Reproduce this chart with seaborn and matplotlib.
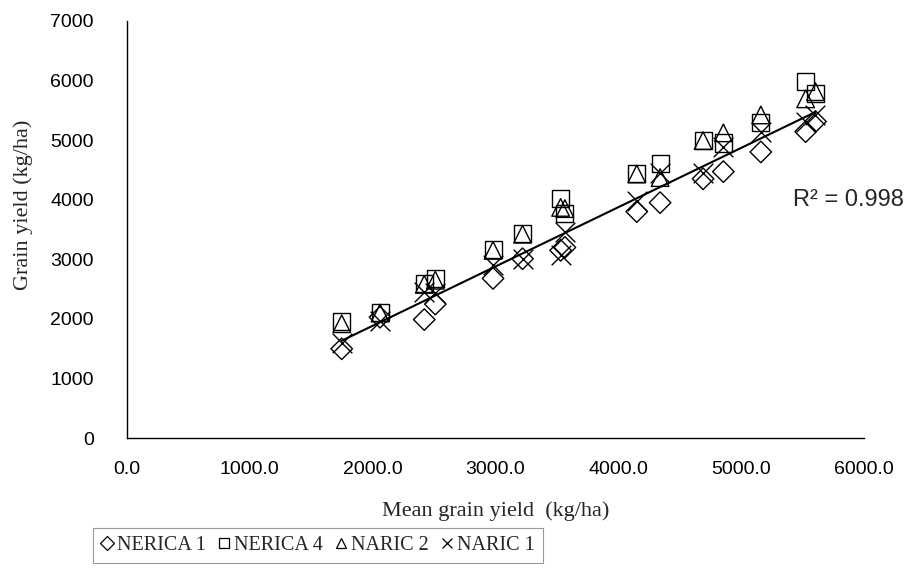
import numpy as np
import pandas as pd
import matplotlib
matplotlib.use('Agg')
import matplotlib.pyplot as plt
from matplotlib.lines import Line2D
import seaborn as sns

# Values
mean_yield = [1748, 2060, 2420, 2510, 2980, 3220, 3530, 3565, 4150, 4340, 4690, 4855, 5160, 5525, 5605]
nerica1 = [1500, 2030, 1990, 2250, 2680, 3010, 3150, 3200, 3800, 3950, 4350, 4470, 4800, 5140, 5310]
nerica4 = [1950, 2110, 2600, 2680, 3160, 3430, 4020, 3760, 4440, 4610, 5000, 4950, 5300, 5980, 5780]
naric2 = [1920, 2100, 2580, 2650, 3150, 3420, 3870, 3850, 4430, 4370, 4990, 5120, 5420, 5690, 5810]
naric1 = [1600, 1960, 2450, 2440, 2900, 3000, 3080, 3450, 3970, 4440, 4440, 4890, 5140, 5310, 5420]

varieties = ['NERICA 1', 'NERICA 4', 'NARIC 2', 'NARIC 1']
series = [nerica1, nerica4, naric2, naric1]
markers = ['D', 's', '^', 'x']
sizes = [120, 150, 160, 200]

x_ticks = [0, 1000, 2000, 3000, 4000, 5000, 6000]
y_ticks = [0, 1000, 2000, 3000, 4000, 5000, 6000, 7000]

sns.set_style('white')
plt.rcParams['font.family'] = ['Liberation Sans', 'DejaVu Sans']

fig = plt.figure(figsize=(9.11, 5.74), dpi=100)
ax = fig.add_axes([127 / 911, 1 - 438.3 / 574, 737 / 911, 417.6 / 574])

for name, vals, m, s in zip(varieties, series, markers, sizes):
    df = pd.DataFrame({'mean': mean_yield, 'yield': vals})
    if m == 'x':
        sns.scatterplot(data=df, x='mean', y='yield', marker=m, s=s, color='black',
                        linewidth=1.0, ax=ax, zorder=3)
    else:
        sns.scatterplot(data=df, x='mean', y='yield', marker=m, s=s, facecolor='none',
                        edgecolor='black', linewidth=1.0, ax=ax, zorder=3)

# linear trend line (NARIC 1 series)
sns.regplot(x=np.array(mean_yield), y=np.array(naric1), scatter=False, ci=None,
            color='black', line_kws={'linewidth': 1.5}, ax=ax, truncate=True)

ax.set_xlim(0, 6000)
ax.set_ylim(0, 7000)
ax.set_xticks(x_ticks)
ax.set_xticklabels([f'{v:.1f}' for v in x_ticks])
ax.set_yticks(y_ticks)
ax.set_yticklabels([str(v) for v in y_ticks])
ax.tick_params(axis='both', direction='in', length=5, width=0.8, color='#808080',
               labelsize=14, colors='black')
ax.tick_params(axis='y', pad=24)
ax.tick_params(axis='x', pad=16)
for sp in ['top', 'right']:
    ax.spines[sp].set_visible(False)
for sp in ['left', 'bottom']:
    ax.spines[sp].set_color('black')
    ax.spines[sp].set_linewidth(1.0)

ax.set_xlabel('Mean grain yield  (kg/ha)', family='Liberation Serif', fontsize=16, labelpad=17)
ax.set_ylabel('Grain yield (kg/ha)', family='Liberation Serif', fontsize=16, labelpad=12, y=0.56)

ax.text(5425, 4000, 'R² = 0.998', fontsize=17, ha='left', va='center')

handles = [Line2D([], [], linestyle='none', marker=m, markersize=7, markerfacecolor='none',
                  markeredgecolor='black', color='black', markeredgewidth=0.9) for m in markers]
leg = fig.legend(handles, varieties, loc='upper left', bbox_to_anchor=(93 / 911, 1 - 528 / 574),
                 ncol=4, frameon=True, fancybox=False, borderaxespad=0, handlelength=0.6,
                 handletextpad=0.2, columnspacing=0.6, borderpad=0.4,
                 prop={'family': 'Liberation Serif', 'size': 14.5})
leg.get_frame().set_edgecolor('#808080')
leg.get_frame().set_linewidth(0.8)

fig.savefig('out.png', dpi=100)
